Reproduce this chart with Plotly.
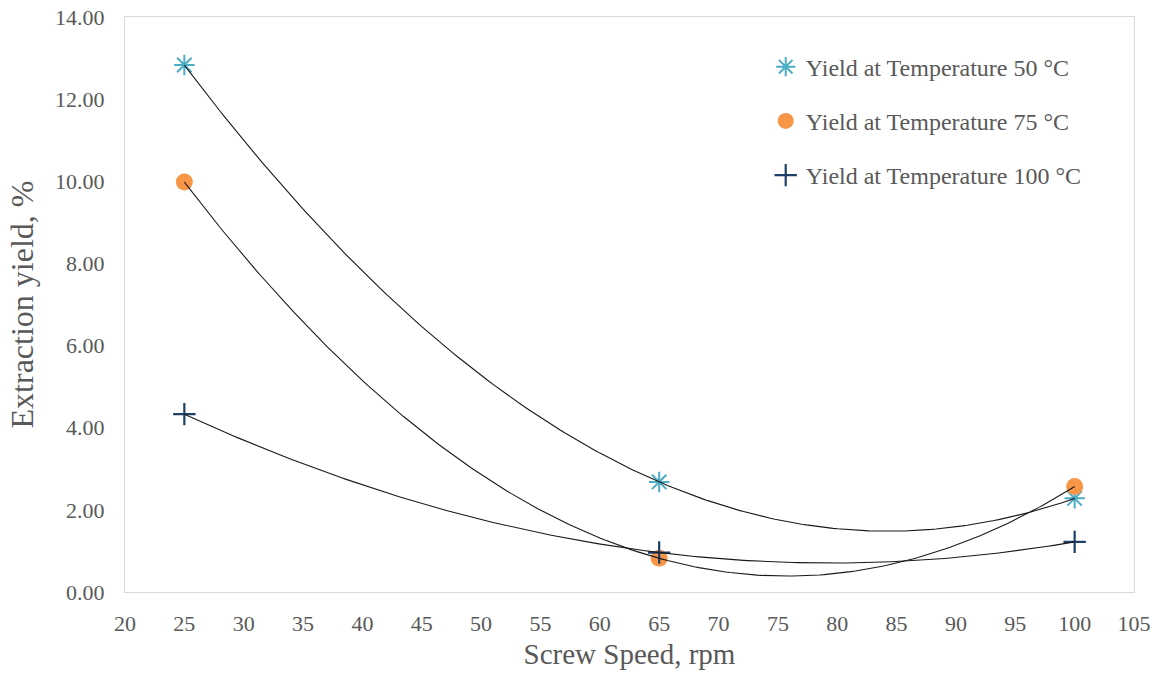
import numpy as np
import plotly.graph_objects as go

screw_speed = [25, 65, 100]
yield_50 = [12.83, 2.68, 2.28]
yield_75 = [9.98, 0.82, 2.57]
yield_100 = [4.33, 0.96, 1.22]

series_names = ["Yield at Temperature 50 °C", "Yield at Temperature 75 °C", "Yield at Temperature 100 °C"]
x_ticks = list(range(20, 106, 5))
y_ticks = [0, 2, 4, 6, 8, 10, 12, 14]

FONT = "Liberation Serif"
TICKFONT = "Times New Roman, Liberation Serif, serif"
GREY = "#595959"

fig = go.Figure()

fig.add_trace(go.Scatter(
    x=screw_speed, y=yield_50, mode="markers", name=series_names[0], legendgroup="a",
    marker=dict(symbol="asterisk-open", size=17, color="#4bacc6", line=dict(width=2, color="#4bacc6")),
))
fig.add_trace(go.Scatter(
    x=screw_speed, y=yield_75, mode="markers", name=series_names[1], legendgroup="b",
    marker=dict(symbol="circle", size=17, color="#f79646", line=dict(width=0)),
))
fig.add_trace(go.Scatter(
    x=screw_speed, y=yield_100, mode="markers", name=series_names[2], legendgroup="c",
    marker=dict(symbol="cross-thin-open", size=16, color="#1f3f6b", line=dict(width=2.2, color="#1f3f6b")),
))

# Polynomial (order 2) trendlines fitted to each series, as in the original chart
xs = np.linspace(min(screw_speed), max(screw_speed), 200)
for ys in (yield_50, yield_75, yield_100):
    coef = np.polyfit(screw_speed, ys, 2)
    fig.add_trace(go.Scatter(
        x=xs, y=np.polyval(coef, xs), mode="lines", showlegend=False, hoverinfo="skip",
        line=dict(color="#1a1a1a", width=1.1),
    ))

fig.update_layout(
    width=1160, height=675,
    margin=dict(l=125, r=26, t=17, b=83, autoexpand=False),
    paper_bgcolor="white", plot_bgcolor="white",
    font=dict(family=FONT, color=GREY, size=22),
    showlegend=True,
    legend=dict(
        x=0.635, y=0.952, xanchor="left", yanchor="top",
        bgcolor="rgba(0,0,0,0)", font=dict(family=FONT, size=24, color=GREY),
        traceorder="grouped", tracegroupgap=20, itemwidth=30,
    ),
)
fig.update_xaxes(
    range=[20, 105], tickvals=x_ticks, ticktext=[str(v) for v in x_ticks],
    showgrid=False, zeroline=False, showline=True, mirror=True, linecolor="#d9d9d9", linewidth=1,
    ticks="", tickfont=dict(size=22, color=GREY, family=TICKFONT), automargin=False,
    ticklabelstandoff=12,
    title=dict(text="Screw Speed, rpm", font=dict(size=29, color=GREY, family=FONT), standoff=8),
)
fig.update_yaxes(
    range=[0, 14], tickvals=y_ticks, ticktext=[f"{v:.2f}" for v in y_ticks],
    showgrid=False, zeroline=False, showline=True, mirror=True, linecolor="#d9d9d9", linewidth=1,
    ticks="", tickfont=dict(size=22, color=GREY, family=TICKFONT), automargin=False,
    ticklabelstandoff=15,
    title=dict(text="Extraction yield, %", font=dict(size=32, color=GREY, family=FONT), standoff=11),
)

fig.write_html("out.html")
